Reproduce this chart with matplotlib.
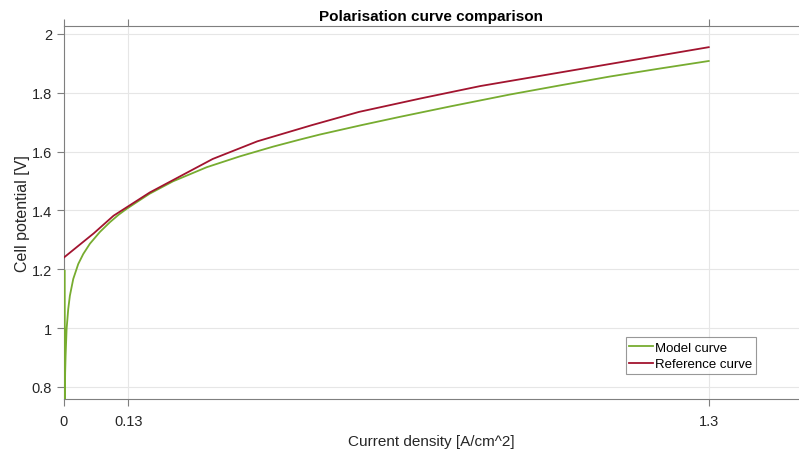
import matplotlib

matplotlib.use("Agg")
import matplotlib.pyplot as plt

plt.rcParams["font.family"] = ["Liberation Sans", "DejaVu Sans"]

# Reference polarisation data (piecewise, measured)
ref_current = [0.0, 0.06, 0.10, 0.173, 0.30, 0.39, 0.50, 0.595, 0.72, 0.84, 1.30]
ref_voltage = [1.24, 1.322, 1.382, 1.461, 1.575, 1.635, 1.69, 1.735, 1.781, 1.823, 1.955]

# Model output (first sample is the open-circuit value)
model_current = [0.0016, 0.0018, 0.0025, 0.0034, 0.0054, 0.0087, 0.012, 0.0188,
                 0.0289, 0.039, 0.0524, 0.0726, 0.0927, 0.11, 0.126, 0.153,
                 0.173, 0.220, 0.288, 0.355, 0.422, 0.476, 0.516, 0.60, 0.677,
                 0.78, 0.899, 1.00, 1.10, 1.20, 1.30]
model_voltage = [1.195, 0.76, 0.85, 0.906, 0.997, 1.065, 1.110, 1.167,
                 1.218, 1.252, 1.287, 1.327, 1.360, 1.385, 1.405, 1.435,
                 1.457, 1.499, 1.547, 1.584, 1.617, 1.641, 1.658, 1.690, 1.718,
                 1.754, 1.794, 1.825, 1.855, 1.882, 1.908]

x_ticks = [0, 0.13, 1.3]
x_tick_labels = ["0", "0.13", "1.3"]
y_ticks = [0.8, 1.0, 1.2, 1.4, 1.6, 1.8, 2.0]
y_tick_labels = ["0.8", "1", "1.2", "1.4", "1.6", "1.8", "2"]

GREEN = "#77AC30"
RED = "#A2142F"
AXIS_GREY = "#7f7f7f"

fig = plt.figure(figsize=(7.99, 4.56), dpi=100)
ax = fig.add_axes([0.080, 0.1228, 0.920, 0.818])

ax.plot(model_current, model_voltage, color=GREEN, linewidth=1.3,
        label="Model curve", zorder=3)
ax.plot(ref_current, ref_voltage, color=RED, linewidth=1.3,
        label="Reference curve", zorder=3)

ax.set_xlim(0, 1.482)
ax.set_ylim(0.759, 2.027)
ax.set_xticks(x_ticks)
ax.set_xticklabels(x_tick_labels)
ax.set_yticks(y_ticks)
ax.set_yticklabels(y_tick_labels)

ax.grid(True, color="#e6e6e6", linewidth=0.8)
ax.set_axisbelow(True)

for side in ("left", "bottom", "top"):
    ax.spines[side].set_color(AXIS_GREY)
    ax.spines[side].set_linewidth(0.8)
    ax.spines[side].set_zorder(2)
ax.spines["right"].set_visible(False)

ax.tick_params(axis="both", direction="out", length=5, width=0.8,
               color=AXIS_GREY, labelsize=10.5, labelcolor="#262626")
ax.tick_params(axis="x", top=True, pad=6)

ax.set_xlabel("Current density [A/cm^2]", fontsize=11, color="#262626", labelpad=4)
ax.set_ylabel("Cell potential [V]", fontsize=11.5, color="#262626", labelpad=1)
ax.set_title("Polarisation curve comparison", fontsize=11, fontweight="bold", pad=4)

leg = ax.legend(loc="lower left", bbox_to_anchor=(0.764, 0.066), fontsize=9.5,
                frameon=True, fancybox=False, handlelength=1.75, handletextpad=0.2,
                borderpad=0.3, labelspacing=0.35, borderaxespad=0)
leg.get_frame().set_edgecolor(AXIS_GREY)
leg.get_frame().set_linewidth(0.8)

fig.savefig("out.png", dpi=100)
